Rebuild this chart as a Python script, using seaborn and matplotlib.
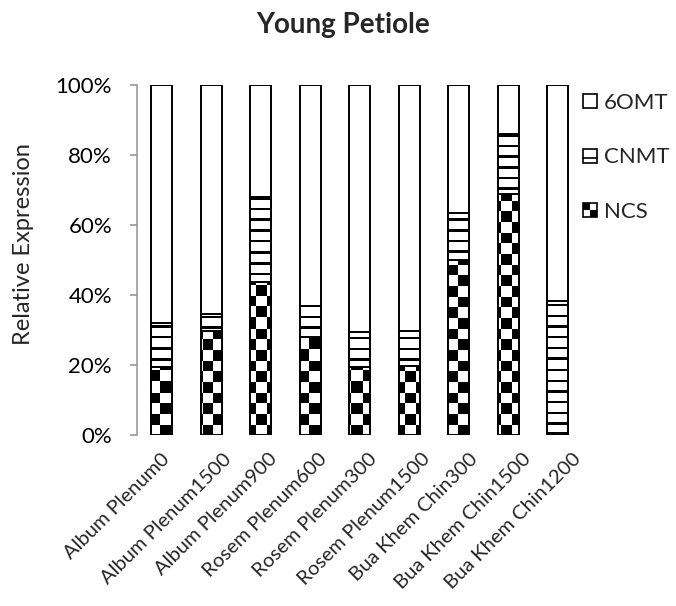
import numpy as np
import pandas as pd
import matplotlib
matplotlib.use("Agg")
import matplotlib.pyplot as plt
import matplotlib.transforms as mtransforms
import seaborn as sns
from matplotlib.legend_handler import HandlerBase
from matplotlib.patches import Rectangle
from matplotlib.lines import Line2D
from matplotlib.ticker import PercentFormatter

# ---- data -------------------------------------------------------------
samples = ["Album Plenum0", "Album Plenum1500", "Album Plenum900",
           "Rosem Plenum600", "Rosem Plenum300", "Rosem Plenum1500",
           "Bua Khem Chin300", "Bua Khem Chin1500", "Bua Khem Chin1200"]
ncs = [19.5, 29.7, 43.8, 28.1, 19.5, 19.6, 50.0, 69.0, 0.6]
cnmt = [12.6, 4.8, 24.3, 8.9, 9.8, 10.1, 13.5, 17.0, 37.7]
omt6 = [67.9, 65.5, 31.9, 63.0, 70.7, 70.3, 36.5, 14.0, 61.7]
series_labels = ["6OMT", "CNMT", "NCS"]
y_ticks = [0.0, 0.2, 0.4, 0.6, 0.8, 1.0]
title = "Young Petiole"
y_label = "Relative Expression"

# ---- style ------------------------------------------------------------
sns.set_style("white")
plt.rcParams["font.family"] = ["Lato", "DejaVu Sans"]
AXIS_GREY = "#9a9a9a"

# 100% stacked: cumulative shares of each gene per sample
df = pd.DataFrame({"sample": samples, "NCS": ncs, "CNMT": cnmt, "6OMT": omt6})
total = df[["NCS", "CNMT", "6OMT"]].sum(axis=1)
df["top_ncs"] = df["NCS"] / total
df["top_cnmt"] = (df["NCS"] + df["CNMT"]) / total
df["top_6omt"] = (df["NCS"] + df["CNMT"] + df["6OMT"]) / total

W, H = 676, 606
fig = plt.figure(figsize=(W / 100, H / 100), dpi=100)
ax = fig.add_axes([137 / W, 1 - 435 / H, 445.5 / W, 350 / H])

bar_kw = dict(color="white", saturation=1, edgecolor="black",
              linewidth=1.4, width=0.42, ax=ax)


def layer(col):
    n0 = len(ax.patches)
    sns.barplot(data=df, x="sample", y=col, **bar_kw)
    return ax.patches[n0:]


def pattern_image(kind):
    """Fill pattern covering the axes, anchored to the figure pixel grid."""
    fig.canvas.draw()
    bb = ax.get_window_extent()
    nx, ny = int(round(bb.width)), int(round(bb.height))
    X = bb.x0 + np.arange(nx) + 0.5
    Y = bb.y0 + np.arange(ny) + 0.5
    XX, YY = np.meshgrid(X, Y)
    period = 10.67
    if kind == "checker":
        arr = (np.floor(XX / period) + np.floor(YY / period)) % 2
    else:
        arr = ((YY % period) < 2.4).astype(float)
    return arr


def fill_with(patches, kind, z):
    arr = pattern_image(kind)
    xl, yl = ax.get_xlim(), ax.get_ylim()
    for p in patches:
        im = ax.imshow(arr, cmap="gray_r", vmin=0, vmax=1, origin="lower",
                       extent=(xl[0], xl[1], yl[0], yl[1]), aspect="auto",
                       interpolation="nearest", zorder=z)
        im.set_clip_path(p)
        p.set_facecolor("none")
        p.set_zorder(z + 1)
    ax.set_xlim(xl)
    ax.set_ylim(yl)


layer("top_6omt")
ax.set_xlim(-0.5, len(samples) - 0.5)
ax.set_ylim(0, 1)
cnmt_bars = layer("top_cnmt")
ncs_bars = layer("top_ncs")
ax.set_xlim(-0.5, len(samples) - 0.5)
ax.set_ylim(0, 1)
fill_with(cnmt_bars, "stripes", 2)
fill_with(ncs_bars, "checker", 4)

# ---- axes -------------------------------------------------------------
for s in ["top", "right", "bottom"]:
    ax.spines[s].set_visible(False)
ax.spines["left"].set_color(AXIS_GREY)
ax.spines["left"].set_linewidth(1.2)
ax.set_yticks(y_ticks)
ax.yaxis.set_major_formatter(PercentFormatter(1.0, decimals=0))
ax.tick_params(axis="y", left=True, direction="out", length=5, width=1.2,
               color=AXIS_GREY, pad=13, labelsize=16, labelcolor="black")
ax.tick_params(axis="x", bottom=False, length=0, pad=11, labelsize=14.5)
ax.set_xticks(range(len(samples)))
ax.set_xticklabels(samples, rotation=45, ha="center", va="top",
                   rotation_mode="default")
shift = mtransforms.ScaledTranslation(-45 / 100, 0, fig.dpi_scale_trans)
for lab in ax.get_xticklabels():
    lab.set_transform(lab.get_transform() + shift)
ax.set_xlabel("")
ax.set_ylabel("")

fig.text(343 / W, 1 - 33 / H, title, fontsize=20, fontweight="bold",
         ha="center", va="baseline")
fig.text(24 / W, 1 - 345 / H, y_label, fontsize=17, rotation=90,
         ha="center", va="bottom")


# ---- legend -----------------------------------------------------------
class SwatchHandler(HandlerBase):
    def __init__(self, kind):
        super().__init__()
        self.kind = kind

    def create_artists(self, legend, orig_handle, xdescent, ydescent,
                       width, height, fontsize, trans):
        x0, y0 = -xdescent, -ydescent
        s = min(width, height)
        arts = [Rectangle((x0, y0), s, s, facecolor="white",
                          edgecolor="none", transform=trans)]
        if self.kind == "checker":
            arts.append(Rectangle((x0, y0 + s / 2), s / 2, s / 2,
                                  facecolor="black", edgecolor="none",
                                  transform=trans))
            arts.append(Rectangle((x0 + s / 2, y0), s / 2, s / 2,
                                  facecolor="black", edgecolor="none",
                                  transform=trans))
        elif self.kind == "stripes":
            arts.append(Line2D([x0, x0 + s], [y0 + 0.35 * s] * 2,
                               color="black", lw=1.2, transform=trans))
        arts.append(Rectangle((x0, y0), s, s, facecolor="none",
                              edgecolor="black", lw=1.2, transform=trans))
        return arts


handles = [Rectangle((0, 0), 1, 1) for _ in series_labels]
kinds = ["plain", "stripes", "checker"]
fig.legend(handles=handles, labels=series_labels,
           handler_map={h: SwatchHandler(k) for h, k in zip(handles, kinds)},
           loc="upper left", bbox_to_anchor=(583 / W, 1 - 93 / H),
           frameon=False, fontsize=16, handlelength=0.63, handleheight=0.63,
           handletextpad=0.3, labelspacing=1.55, borderpad=0, borderaxespad=0)

fig.savefig("out.png", dpi=100)
